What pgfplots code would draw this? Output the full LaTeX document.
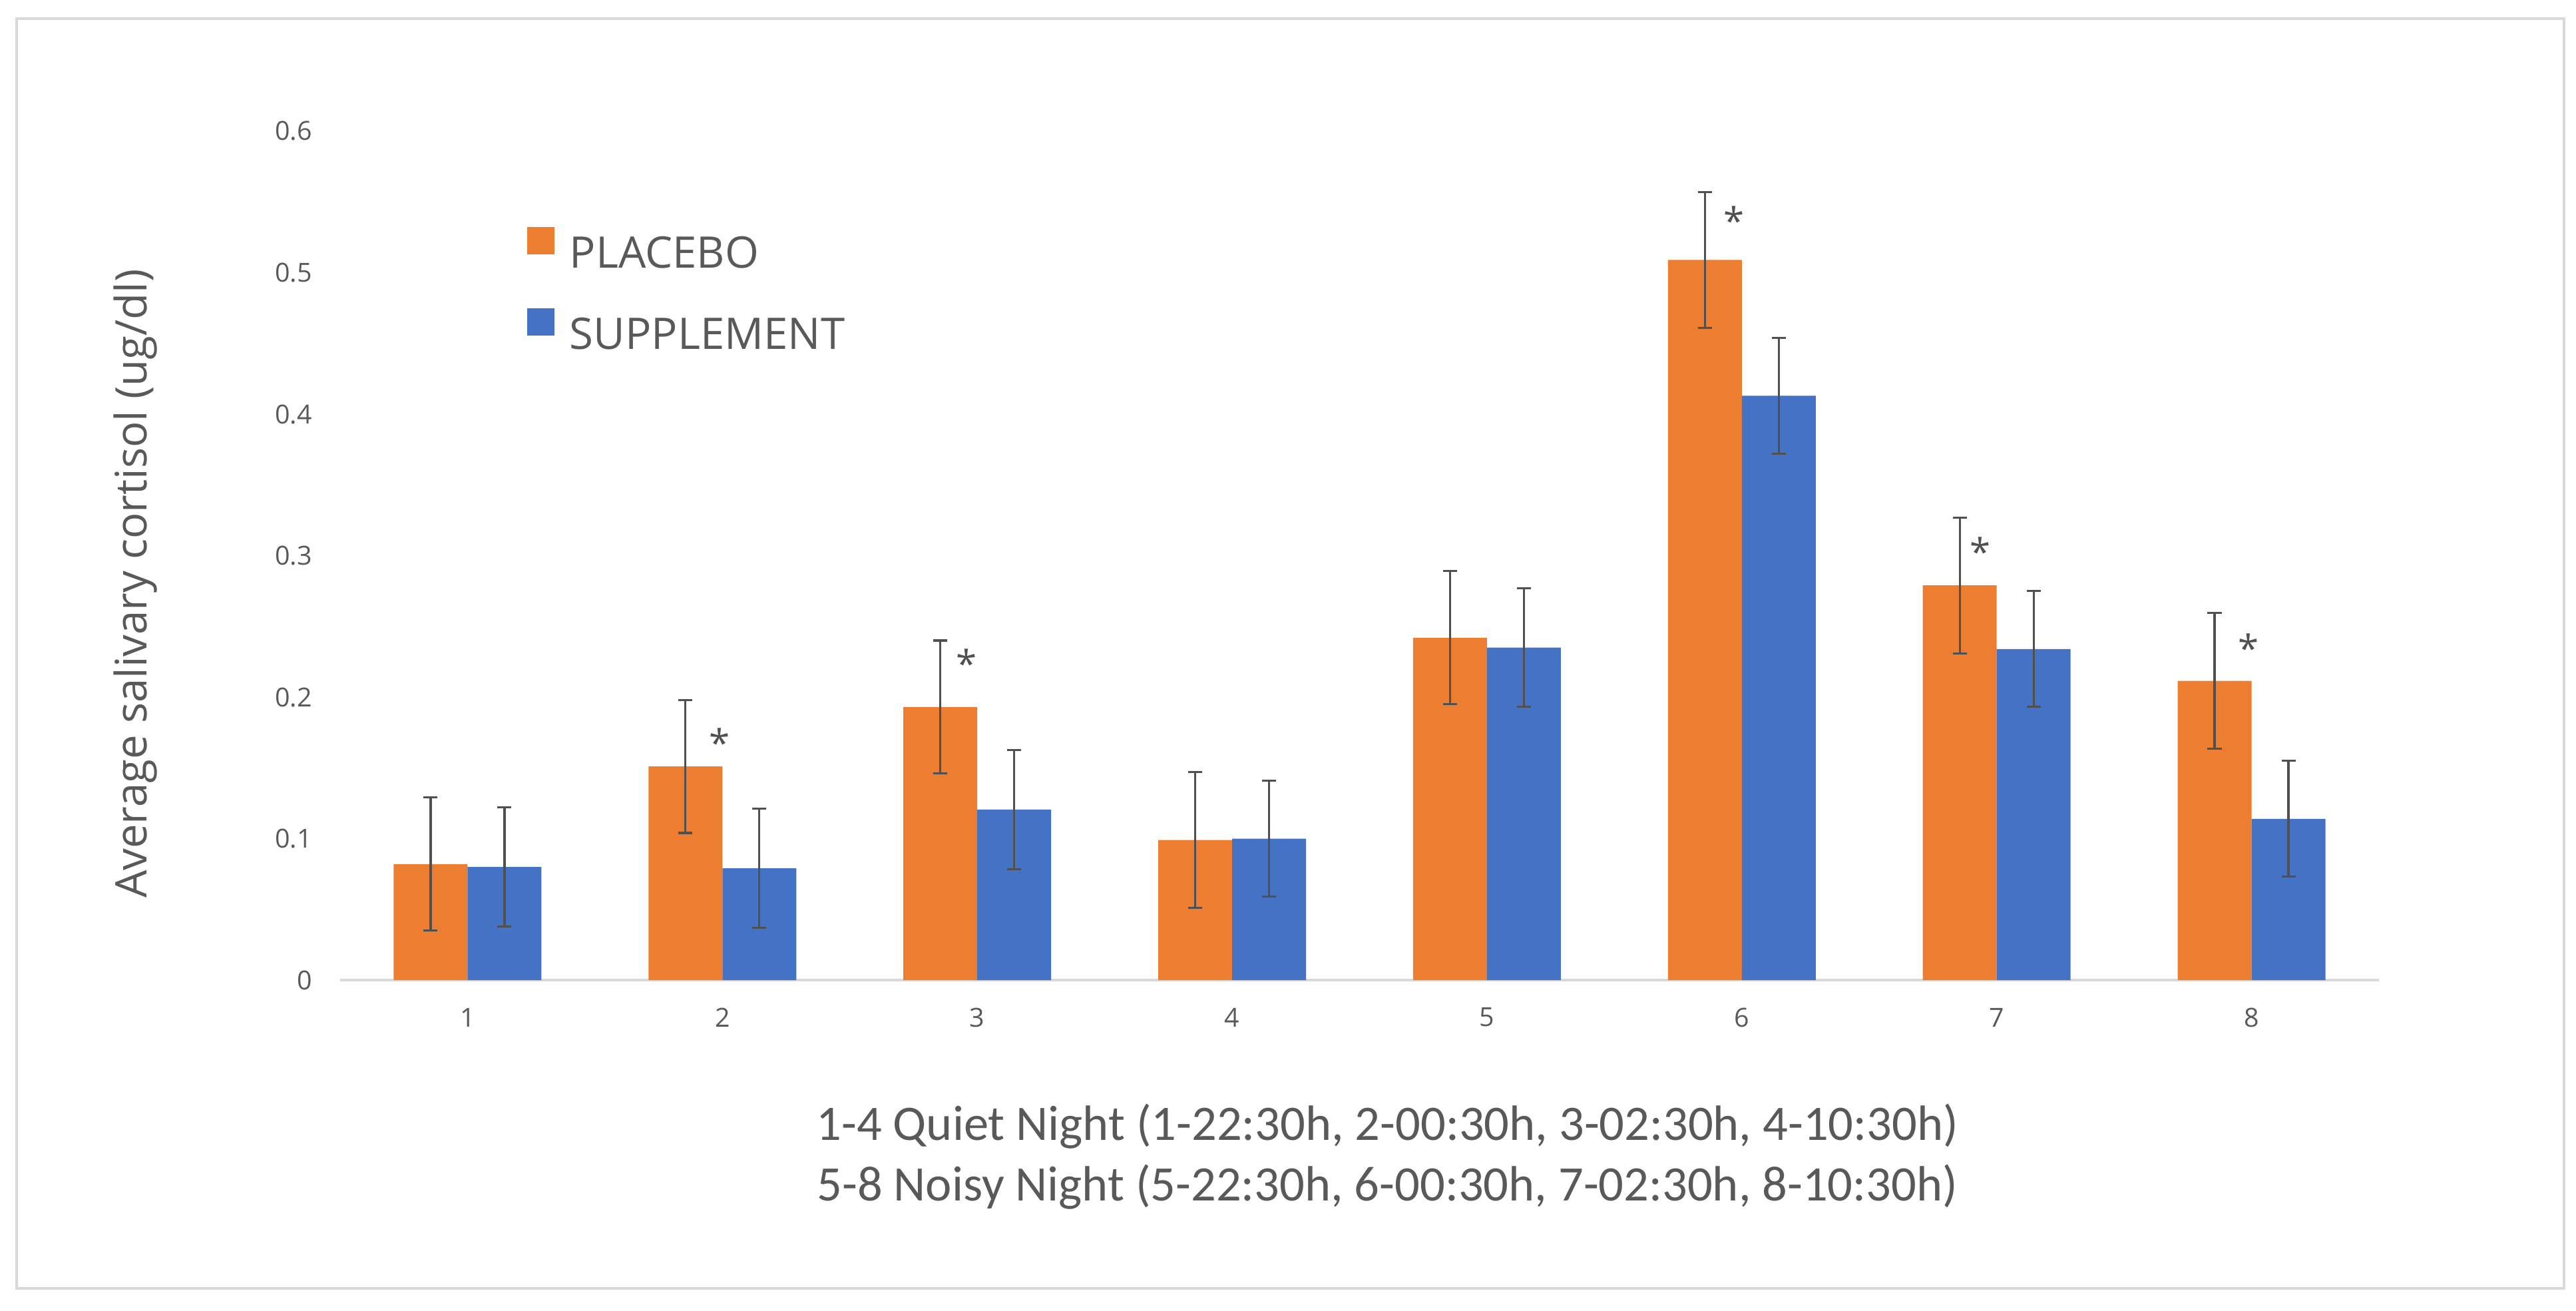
\documentclass[border=0pt]{standalone}
\usepackage{fontspec}
\setmainfont{Open Sans}
\newfontfamily\carlito{Carlito}
\usepackage{pgfplots}
\usepackage{pgfplotstable}
\pgfplotsset{compat=1.18}

\definecolor{placebo}{HTML}{ED7D31}
\definecolor{supp}{HTML}{4472C4}
\definecolor{txtgray}{HTML}{595959}
\definecolor{errgray}{HTML}{505050}
\definecolor{linegray}{HTML}{D9D9D9}

% mean and error (same up and down)
\pgfplotstableread{
x y err
1 0.082 0.047
2 0.151 0.047
3 0.193 0.047
4 0.099 0.048
5 0.242 0.047
6 0.509 0.048
7 0.279 0.048
8 0.2115 0.048
}\placebotab

\pgfplotstableread{
x y err
1 0.080 0.042
2 0.079 0.042
3 0.1205 0.042
4 0.100 0.041
5 0.235 0.042
6 0.413 0.041
7 0.234 0.041
8 0.114 0.041
}\supptab

% significance stars
\pgfplotstableread{
x y
1.989 0.173
2.957 0.229
5.969 0.542
6.935 0.308
7.987 0.240
}\startab

\begin{document}
\begin{tikzpicture}
\useasboundingbox (0,0) rectangle (19.35,9.84);
\draw[linegray, line width=0.55pt] (0.125,0.165) rectangle (19.26,9.70);

\begin{axis}[
    at={(2.555cm,2.48cm)}, anchor=south west,
    scale only axis,
    width=15.315cm, height=6.375cm,
    ybar, bar width=0.29,
    xmin=0.5, xmax=8.5,
    ymin=0, ymax=0.6,
    xtick={1,...,8},
    ytick={0,0.1,0.2,0.3,0.4,0.5,0.6},
    major tick length=0pt,
    axis x line*=bottom,
    axis y line*=left,
    x axis line style={linegray, line width=0.6pt},
    y axis line style={draw=none},
    /pgf/number format/.cd, fixed, precision=1, assume math mode=true,
    /pgfplots/.cd,
    tick label style={font=\fontsize{5.6}{6.7}\selectfont, text=txtgray, inner sep=0pt},
    yticklabel style={anchor=east, xshift=-0.205cm},
    xticklabel style={anchor=center, yshift=-0.28cm},
    ylabel={Average salivary cortisol (ug/dl)},
    ylabel style={at={(axis description cs:-0.1004,0.467)}, anchor=center,
        font=\fontsize{9.3}{11}\selectfont, text=txtgray, inner sep=0pt},
    xlabel={1-4 Quiet Night (1-22:30h, 2-00:30h, 3-02:30h, 4-10:30h)\\5-8 Noisy Night (5-22:30h, 6-00:30h, 7-02:30h, 8-10:30h)},
    xlabel style={at={(axis description cs:0.5136,-0.2078)}, anchor=center, align=center,
        font=\carlito\fontsize{10.6}{13}\selectfont, text=txtgray, inner sep=0pt},
    legend style={at={(axis description cs:0.0917,0.887)}, anchor=north west,
        draw=none, fill=none, inner sep=0pt, outer sep=0pt,
        font=\fontsize{9.3}{10.5}\selectfont, text=txtgray,
        nodes={inner sep=0pt}, row sep=0.246cm,
        /tikz/every odd column/.append style={column sep=0.115cm}},
    legend cell align=left,
    error bars/error bar style={errgray, line width=0.45pt},
    error bars/error mark options={rotate=90, errgray, mark size=1.5pt, line width=0.45pt},
]

\addplot[bar shift=-0.145, fill=placebo, draw=none,
    error bars/.cd, y dir=both, y explicit,
    /pgfplots/.cd,
    legend image code/.code={\fill[placebo] (0cm,0.012cm) rectangle (0.205cm,0.217cm);}]
    table[x=x, y=y, y error=err] {\placebotab};
\addlegendentry{PLACEBO}

\addplot[bar shift=0.145, fill=supp, draw=none,
    error bars/.cd, y dir=both, y explicit,
    /pgfplots/.cd,
    legend image code/.code={\fill[supp] (0cm,0.012cm) rectangle (0.205cm,0.217cm);}]
    table[x=x, y=y, y error=err] {\supptab};
\addlegendentry{SUPPLEMENT}

% invisible bars carrying only the star labels
\addplot[bar shift=0, draw=none, fill=none, forget plot,
    nodes near coords={*},
    every node near coord/.style={anchor=north, yshift=0.06cm, inner sep=0pt,
        font=\fontsize{8}{9}\selectfont, text=errgray}]
    table[x=x, y=y] {\startab};

\end{axis}
\end{tikzpicture}
\end{document}
